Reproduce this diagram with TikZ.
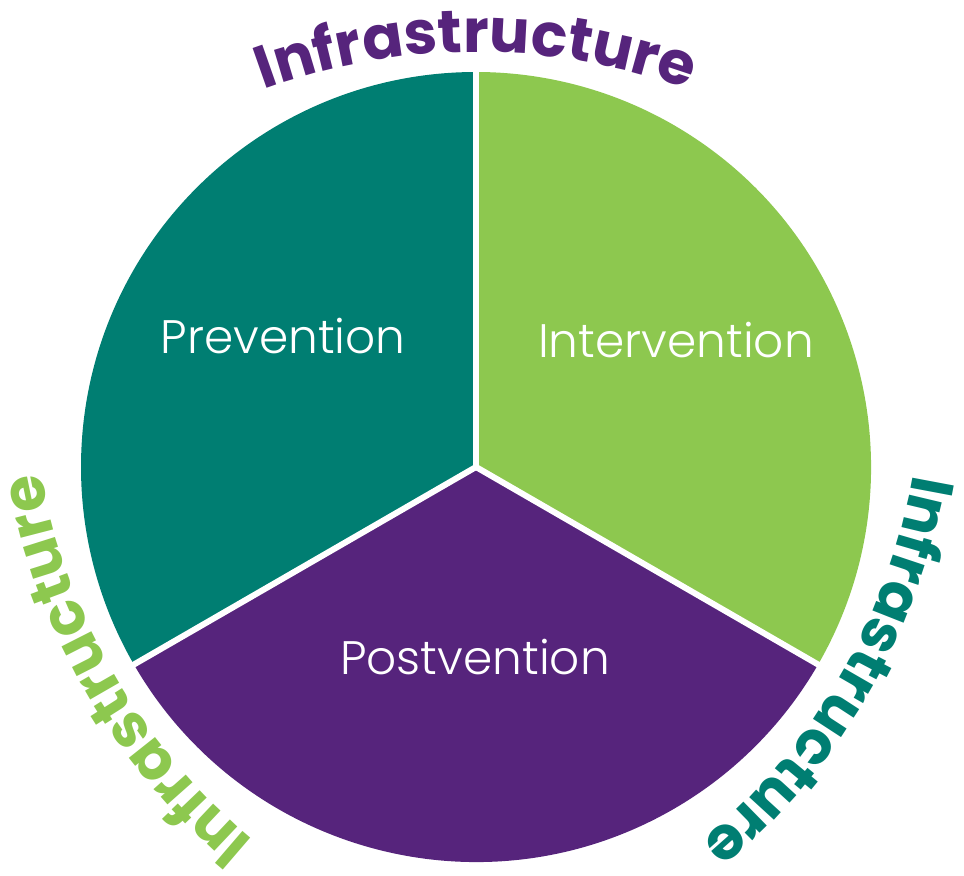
\documentclass[tikz,border=0pt]{standalone}
\usepackage{fontspec}
\usepackage{xcolor}
\usetikzlibrary{calc,decorations.text}
\newfontfamily\infrafont{Poppins Bold}
\newfontfamily\labelfont{Poppins Light}
\definecolor{pieteal}{RGB}{0,126,114}
\definecolor{piegreen}{RGB}{141,200,79}
\definecolor{piepurple}{RGB}{86,36,124}

\begin{document}
\begin{tikzpicture}[x=0.5pt,y=0.5pt,
    divider/.style={white, line width=3pt},
    sectortext/.style={text=white, font=\labelfont\fontsize{23.5}{28}\selectfont}]
  \useasboundingbox (0,0) rectangle (964,875);
  \coordinate (centre) at (476,408);

  % Draw the three sectors
  \fill[pieteal] (centre) -- ++(90:395) arc[start angle=90, end angle=210, radius=395] -- cycle;
  \fill[piepurple] (centre) -- ++(210:395) arc[start angle=210, end angle=330, radius=395] -- cycle;
  \fill[piegreen] (centre) -- ++(330:395) arc[start angle=330, end angle=450, radius=395] -- cycle;

  % White dividers
  \foreach \ang in {90,210,330}
    \draw[divider] (centre) -- ++(\ang:402);

  % Sector labels
  \node[sectortext] (prevention) at (283,539) {Prevention};
  \node[sectortext] (intervention) at (676,535) {Intervention};
  \node[sectortext] (postvention) at (475,218) {Postvention};

  % Curved outer labels
  \foreach \ang/\rad/\col in {90/415/piepurple, -30/420/pieteal, 210/417/piegreen}
    \path[decorate, decoration={text along path, text align=center,
        text={|\infrafont\fontsize{30}{30}\selectfont\color{\col}|Infrastructure}}]
      ($(centre)+(\ang+180:617-\rad)+(\ang+30:617)$)
      arc[start angle=\ang+30, end angle=\ang-30, radius=617];
\end{tikzpicture}
\end{document}
